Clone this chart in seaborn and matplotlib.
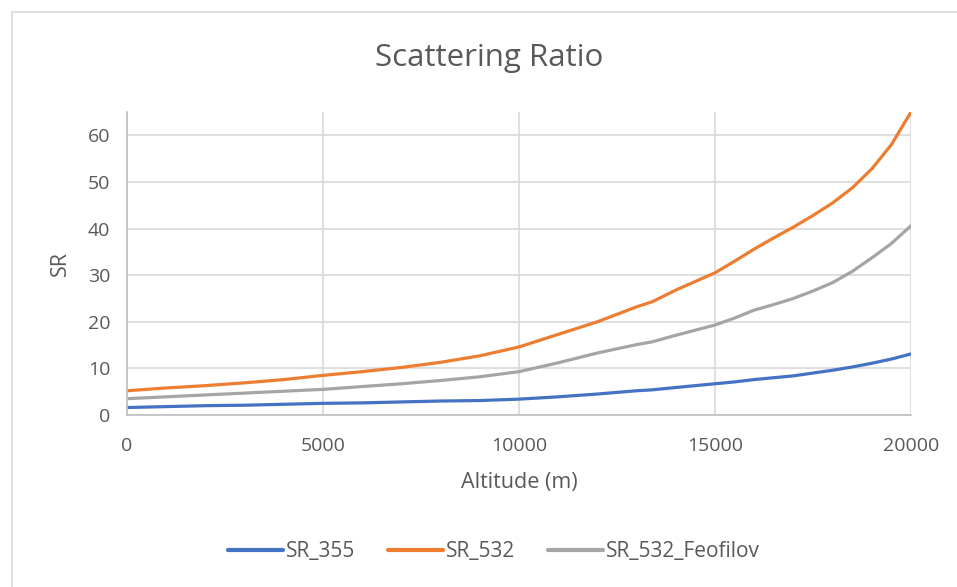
import matplotlib
matplotlib.use("Agg")
import matplotlib.pyplot as plt
import seaborn as sns
import pandas as pd
from matplotlib.patches import Rectangle
from matplotlib.lines import Line2D

altitude = [0, 1000, 2000, 3000, 4000, 5000, 6000, 7000, 8000, 9000, 10000,
            11000, 12000, 13000, 13400, 14000, 15000, 15500, 16000, 16500,
            17000, 17500, 18000, 18500, 19000, 19500, 20000]
sr_355 = [1.6, 1.8, 2.0, 2.1, 2.3, 2.5, 2.6, 2.8, 3.0, 3.1, 3.4,
          3.9, 4.5, 5.2, 5.4, 5.9, 6.7, 7.1, 7.6, 8.0,
          8.4, 9.0, 9.6, 10.3, 11.1, 12.0, 13.1]
sr_532 = [5.2, 5.8, 6.3, 6.9, 7.6, 8.5, 9.3, 10.2, 11.3, 12.7, 14.6,
          17.3, 20.0, 23.2, 24.3, 26.8, 30.5, 33.0, 35.6, 38.0,
          40.3, 42.8, 45.5, 48.7, 52.8, 58.0, 65.0]
sr_532_feo = [3.5, 3.9, 4.3, 4.7, 5.1, 5.5, 6.1, 6.7, 7.4, 8.2, 9.3,
              11.2, 13.3, 15.1, 15.7, 17.1, 19.3, 20.8, 22.5, 23.7,
              25.0, 26.6, 28.4, 30.8, 33.7, 36.8, 40.6]
series_names = ["SR_355", "SR_532", "SR_532_Feofilov"]
colors = ["#4472C4", "#ED7D31", "#A5A5A5"]

df = pd.concat([
    pd.DataFrame({"Altitude": altitude, "SR": vals, "Series": name})
    for name, vals in zip(series_names, [sr_355, sr_532, sr_532_feo])
])

sns.set_theme(style="white")
plt.rcParams["font.family"] = ["Open Sans", "DejaVu Sans"]
text_color = "#595959"

fig = plt.figure(figsize=(9.57, 5.87), dpi=100)
fig.patches.append(Rectangle((12 / 957, -0.1), 1.2, 1 - 12 / 587 + 0.1,
                             transform=fig.transFigure, fill=False,
                             edgecolor="#D9D9D9", linewidth=1.2))
ax = fig.add_axes([127 / 957, 1 - 415 / 587, (911 - 127) / 957, (415 - 112) / 587])

sns.lineplot(data=df, x="Altitude", y="SR", hue="Series", palette=colors,
             linewidth=2.3, ax=ax, legend=False)

ax.set_xlim(0, 20000)
ax.set_ylim(0, 65)
ax.set_xticks([0, 5000, 10000, 15000, 20000])
ax.set_yticks([0, 10, 20, 30, 40, 50, 60])
ax.grid(True, color="#D9D9D9", linewidth=1.2)
ax.set_axisbelow(True)
for s in ["top", "right"]:
    ax.spines[s].set_visible(False)
for s in ["left", "bottom"]:
    ax.spines[s].set_color("#BFBFBF")
    ax.spines[s].set_linewidth(1.2)
ax.tick_params(axis="both", length=0, labelsize=14, colors=text_color)
ax.tick_params(axis="y", pad=12)
ax.tick_params(axis="x", pad=16)
ax.set_xlabel("Altitude (m)", fontsize=15.5, color=text_color, labelpad=12)
ax.set_ylabel("SR", fontsize=15.5, color=text_color, labelpad=12)

fig.text(489 / 957, 1 - 58 / 587, "Scattering Ratio", ha="center", va="center",
         fontsize=22.5, color=text_color)

handles = [Line2D([0], [0], color=c, linewidth=3) for c in colors]
fig.legend(handles, series_names, loc="center", bbox_to_anchor=(494 / 957, 1 - 552 / 587),
           ncol=3, frameon=False, fontsize=15, handlelength=2.6, columnspacing=1.6,
           handletextpad=0.15, labelcolor=text_color)

fig.savefig("out.png", dpi=100)
